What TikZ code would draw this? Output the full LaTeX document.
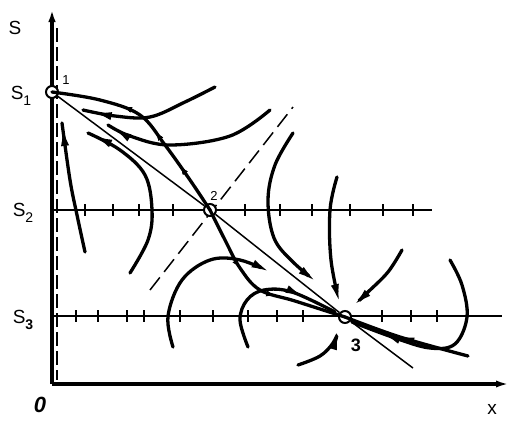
\documentclass[tikz,border=0pt]{standalone}
\usepackage{fontspec}
\setmainfont{Liberation Sans}
\usetikzlibrary{arrows.meta,decorations.markings}
\tikzset{
  thickc/.style={line width=3.3pt, line cap=round},
  thinl/.style={line width=1.5pt},
  axisl/.style={line width=3.5pt},
  pt/.style={circle, draw, fill=white, line width=2pt, minimum size=12pt, inner sep=0pt},
  flowmark/.style={postaction={decorate}, decoration={markings, mark=at position #1 with {\arrow{Latex[length=21pt,width=8pt]}}}},
  barb/.style={postaction={decorate}, decoration={markings, mark=at position #1 with {\arrow{Latex[length=8pt,width=6pt]}}}},
  endarr/.style={-{Latex[length=21pt,width=8pt]}},
  lbl/.style={font=\fontsize{19}{21}\selectfont, inner sep=0pt},
  small/.style={font=\fontsize{13}{15}\selectfont, inner sep=0pt},
  tickl/.style={line width=1.5pt},
}
\newcommand{\subn}[1]{\raisebox{-6pt}{\fontsize{14}{14}\selectfont #1}}
\begin{document}
\begin{tikzpicture}[x=1pt,y=-1pt]
\useasboundingbox (0,0) rectangle (512,421);
% axes
\coordinate (O) at (52,384);
\coordinate (Ytop) at (52,6);
\coordinate (Xend) at (510,384);
\draw[axisl,-{Latex[length=16pt,width=7pt]}] (O) -- (Ytop);
\draw[axisl,-{Latex[length=14pt,width=7pt]}] (O) -- (Xend);
\coordinate (dv1) at (57,28);
\coordinate (dv2) at (57,380);
\draw[thinl, dash pattern=on 14pt off 5pt] (dv1) -- (dv2);
% labels
\node[lbl] (lS) at (15,28) {S};
\node[lbl] (lS1) at (21,96) {S\subn{1}};
\node[lbl] (lS2) at (23,213) {S\subn{2}};
\node[lbl] (lS3) at (23,320) {S\subn{\textbf{3}}};
\node[lbl, font=\fontsize{22}{24}\selectfont\bfseries\itshape] (l0) at (40,405) {0};
\node[lbl] (lx) at (492,409) {x};
% horizontal levels
\coordinate (h2a) at (52,210);
\coordinate (h2b) at (432,210);
\coordinate (h3a) at (52,316);
\coordinate (h3b) at (502,316);
\draw[thinl] (h2a) -- (h2b);
\draw[thinl] (h3a) -- (h3b);
\foreach \x in {85,113,139,173,245,280,312,350,383,413} \draw[tickl] (\x,204) -- (\x,216);
\foreach \x in {76,98,127,144,180,213,248,277,303,382,411,437} \draw[tickl] (\x,310) -- (\x,322);
% dashed diagonal
\coordinate (d1) at (150,290);
\coordinate (d2) at (293,107);
\draw[thinl, dash pattern=on 16pt off 7pt] (d1) -- (d2);
% singular points
\node[pt] (p1) at (52,92) {};
\node[pt] (p2) at (210,210) {};
\node[pt] (p3) at (345,317) {};
\node[small] (n1) at (66,80) {1};
\node[small] (n2) at (214,196) {2};
\node[lbl, font=\fontsize{18}{20}\selectfont\bfseries] (n3) at (356,345) {3};
% thin straight line
\coordinate (t3) at (413,368);
\draw[thinl] (p1) -- (p2);
\draw[thinl] (p2) -- (p3);
\draw[thinl] (p3) -- (t3);
% separatrices
\draw[thickc, barb=0.25, barb=0.45, barb=0.65] plot[smooth, tension=0.6] coordinates {(p2.center) (190,180) (165,145) (140,115) (100,100) (p1.center)};
\draw[thickc, barb=0.35, barb=0.6] plot[smooth, tension=0.6] coordinates {(p2.center) (225,240) (240,268) (260,290) (295,301) (p3.center)};
\draw[thickc, flowmark=0.6] plot[smooth, tension=0.6] coordinates {(468,356) (400,337) (p3.center)};
% trajectories near node 1
\draw[thickc, flowmark={-8pt}] plot[smooth, tension=0.6] coordinates {(215,87) (185,102) (150,117) (115,116) (83,110)};
\draw[thickc, flowmark={-4pt}] plot[smooth, tension=0.6] coordinates {(270,110) (230,136) (170,145) (130,136) (108,125)};
\draw[thickc, flowmark={-4pt}] plot[smooth, tension=0.6] coordinates {(130,273) (148,240) (152,210) (145,175) (120,150) (88,133)};
\draw[thickc, flowmark={-2pt}] plot[smooth, tension=0.6] coordinates {(85,252) (77,215) (70,180) (62,123)};
% trajectories near node 3
\draw[thickc, endarr] plot[smooth, tension=0.6] coordinates {(293,133) (275,165) (268,200) (274,238) (293,262) (318,283)};
\draw[thickc, endarr] plot[smooth, tension=0.6] coordinates {(337,177) (330,210) (331,260) (340,305)};
\draw[thickc, endarr] plot[smooth, tension=0.6] coordinates {(402,250) (388,272) (368,292) (352,307)};
\draw[thickc, endarr] plot[smooth, tension=0.6] coordinates {(298,365) (320,356) (333,343) (339,329)};
\draw[thickc, flowmark=0.85] plot[smooth, tension=0.6] coordinates {(450,260) (462,285) (467,317) (455,344) (430,348) (395,338) (352,322)};
\draw[thickc, endarr] plot[smooth, tension=0.6] coordinates {(173,347) (168,316) (182,280) (210,260) (240,260) (272,273)};
\draw[thickc, flowmark=0.78] plot[smooth, tension=0.6] coordinates {(248,347) (240,320) (247,300) (264,290) (292,292) (335,312)};
\end{tikzpicture}
\end{document}
